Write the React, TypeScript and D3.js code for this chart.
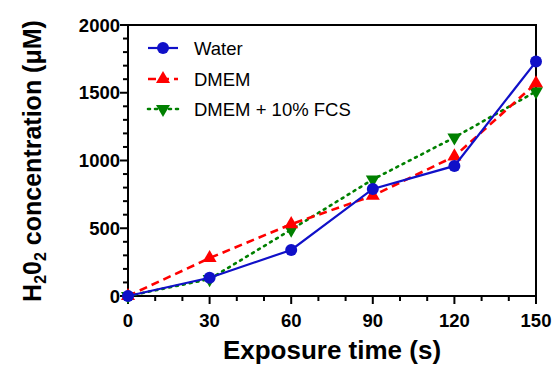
import React, { useEffect, useRef } from "react";
import * as d3 from "d3";

const times = [0, 30, 60, 90, 120, 150];
const water = [0, 135, 340, 790, 960, 1730];
const dmem = [0, 280, 530, 740, 1030, 1570];
const dmemFcs = [0, 125, 490, 860, 1170, 1510];
const xTicks = [0, 30, 60, 90, 120, 150];
const yTicks = [0, 500, 1000, 1500, 2000];

const series = [
  { name: "Water", values: water, color: "#1010c8", dash: null, width: 2.2, marker: "circle" },
  { name: "DMEM", values: dmem, color: "#ff0000", dash: "8,5", width: 2.6, marker: "up" },
  { name: "DMEM + 10% FCS", values: dmemFcs, color: "#008000", dash: "2,5", width: 2.6, marker: "down" },
];

export default function App() {
  const ref = useRef<SVGSVGElement>(null);

  useEffect(() => {
    const svg = d3.select(ref.current);
    svg.selectAll("*").remove();

    const width = 556;
    const height = 365;
    const left = 128, right = 536, top = 25, bottom = 296;

    const x = d3.scaleLinear().domain([0, 150]).range([left, right]);
    const y = d3.scaleLinear().domain([0, 2000]).range([bottom, top]);

    const font = "Arial, 'Liberation Sans', sans-serif";

    // frame
    svg.append("rect")
      .attr("x", left).attr("y", top)
      .attr("width", right - left).attr("height", bottom - top)
      .attr("fill", "none").attr("stroke", "#000").attr("stroke-width", 2);

    // y ticks
    const yMinor = d3.range(0, 2001, 100);
    svg.append("g").selectAll("line").data(yMinor).enter().append("line")
      .attr("x1", left).attr("x2", (d) => (d % 500 === 0 ? left - 8 : left - 5))
      .attr("y1", (d) => y(d)).attr("y2", (d) => y(d))
      .attr("stroke", "#000").attr("stroke-width", 2);
    svg.append("g").selectAll("text").data(yTicks).enter().append("text")
      .attr("x", left - 8).attr("y", (d) => y(d) + 6.5)
      .attr("text-anchor", "end")
      .attr("font-family", font).attr("font-weight", "bold").attr("font-size", 18.5)
      .text((d) => d);

    // x ticks
    const xMinor = d3.range(0, 151, 10);
    svg.append("g").selectAll("line").data(xMinor).enter().append("line")
      .attr("y1", bottom).attr("y2", (d) => (d % 30 === 0 ? bottom + 8 : bottom + 5))
      .attr("x1", (d) => x(d)).attr("x2", (d) => x(d))
      .attr("stroke", "#000").attr("stroke-width", 2);
    svg.append("g").selectAll("text").data(xTicks).enter().append("text")
      .attr("x", (d) => x(d)).attr("y", bottom + 31)
      .attr("text-anchor", "middle")
      .attr("font-family", font).attr("font-weight", "bold").attr("font-size", 18.5)
      .text((d) => d);

    // axis titles
    svg.append("text")
      .attr("x", 332).attr("y", 359)
      .attr("text-anchor", "middle")
      .attr("font-family", font).attr("font-weight", "bold").attr("font-size", 26)
      .text("Exposure time (s)");

    const yt = svg.append("text")
      .attr("transform", `translate(41,${161}) rotate(-90)`)
      .attr("text-anchor", "middle")
      .attr("font-family", font).attr("font-weight", "bold").attr("font-size", 25);
    yt.append("tspan").text("H");
    yt.append("tspan").attr("font-size", 16).attr("dy", 5).text("2");
    yt.append("tspan").attr("dy", -5).text("0");
    yt.append("tspan").attr("font-size", 16).attr("dy", 5).text("2");
    yt.append("tspan").attr("dy", -5).text(" concentration (\u03bcM)");

    const tri = d3.symbol().type(d3.symbolTriangle).size(85);

    const drawMarker = (g: any, m: string, cx: number, cy: number, color: string) => {
      if (m === "circle") {
        g.append("circle").attr("cx", cx).attr("cy", cy).attr("r", 6).attr("fill", color);
      } else {
        g.append("path").attr("d", tri())
          .attr("transform", `translate(${cx},${cy}) ${m === "down" ? "rotate(180)" : ""}`)
          .attr("fill", color);
      }
    };

    const line = d3.line<number>().x((d, i) => x(times[i])).y((d) => y(d));

    // draw in reverse so water is on top
    [...series].reverse().forEach((s) => {
      const g = svg.append("g");
      g.append("path").datum(s.values).attr("d", line)
        .attr("fill", "none").attr("stroke", s.color).attr("stroke-width", s.width)
        .attr("stroke-dasharray", s.dash)
        .attr("stroke-linecap", s.marker === "down" ? "round" : "butt");
      s.values.forEach((v, i) => drawMarker(g, s.marker, x(times[i]), y(v), s.color));
    });

    // legend
    const legY = [48, 79, 109];
    series.forEach((s, i) => {
      const g = svg.append("g");
      g.append("line").attr("x1", 148).attr("x2", 178)
        .attr("y1", legY[i]).attr("y2", legY[i])
        .attr("stroke", s.color).attr("stroke-width", s.width)
        .attr("stroke-dasharray", s.dash)
        .attr("stroke-linecap", s.marker === "down" ? "round" : "butt");
      drawMarker(g, s.marker, 163, legY[i], s.color);
      g.append("text").attr("x", 194).attr("y", legY[i] + 6.5)
        .attr("font-family", font).attr("font-size", 18.5).text(s.name);
    });

    svg.attr("width", width).attr("height", height);
  }, []);

  return (
    <svg ref={ref} style={{ position: "absolute", left: 0, top: 0, background: "#fff" }} />
  );
}
